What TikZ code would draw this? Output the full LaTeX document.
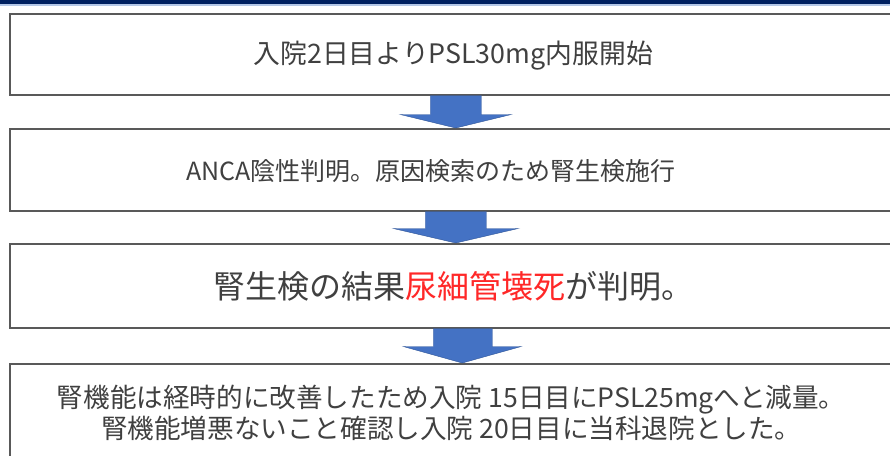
\documentclass[tikz,border=0pt]{standalone}
\usepackage{fontspec}
\setmainfont{Noto Sans CJK JP}
\usetikzlibrary{calc}
\definecolor{navy}{RGB}{0,32,96}
\definecolor{lightbar}{RGB}{180,199,231}
\definecolor{arrowblue}{RGB}{68,114,196}
\definecolor{arrowedge}{RGB}{47,85,151}
\definecolor{boxline}{RGB}{89,89,89}
\definecolor{txt}{RGB}{64,64,64}
\definecolor{redtxt}{RGB}{255,40,40}
\tikzset{
  flowbox/.style={draw=boxline, line width=1.5pt, fill=white, minimum width=891pt, inner sep=0pt, anchor=north west},
  flowtext/.style={text=txt, inner sep=0pt, align=center},
  downarrow/.style={fill=arrowblue, draw=arrowedge, line width=0.4pt, line join=miter}
}
\begin{document}
\begin{tikzpicture}[x=1pt,y=-1pt]
\useasboundingbox (0,0) rectangle (890,455);
\clip (0,0) rectangle (890,455);
% top bar
\fill[navy] (0,0) rectangle (890,4);
\fill[lightbar] (0,4) rectangle (890,5.5);
% boxes
\node[flowbox, minimum height=81pt] (b1) at (9,13) {};
\node[flowbox, minimum height=82pt] (b2) at (9,128) {};
\node[flowbox, minimum height=84pt] (b3) at (9,243) {};
\node[flowbox, minimum height=98pt] (b4) at (9,363) {};
% texts
\node[flowtext, font=\fontsize{26.8}{30}\selectfont] (t1) at ($(b1.center)+(-2,1.5)$) {入院2日目よりPSL30mg内服開始};
\node[flowtext, font=\fontsize{25}{30}\selectfont] (t2) at ($(b2.center)+(-24,1)$) {ANCA陰性判明。原因検索のため腎生検施行};
\node[flowtext, font=\fontsize{32}{38}\selectfont] (t3) at ($(b3.center)+(-2,1)$) {腎生検の結果\textcolor{redtxt}{尿細管壊死}が判明。};
\node[flowtext, font=\fontsize{26.6}{31}\selectfont] (t4) at ($(b4.center)+(-4,0)$) {腎機能は経時的に改善したため入院 15日目にPSL25mgへと減量。\\腎機能増悪ないこと確認し入院 20日目に当科退院とした。};
% arrows
\path[downarrow] ($(b1.south)+(-25,0)$) -- ($(b1.south)+(26,0)$) -- ($(b1.south)+(26,19)$) -- ($(b1.south)+(56,19)$) -- ($(b2.north)+(0.5,0)$) -- ($(b1.south)+(-55,19)$) -- ($(b1.south)+(-25,19)$) -- cycle;
\path[downarrow] ($(b2.south)+(-30,0)$) -- ($(b2.south)+(31,0)$) -- ($(b2.south)+(31,17)$) -- ($(b2.south)+(63,17)$) -- ($(b3.north)+(0.5,0)$) -- ($(b2.south)+(-62,17)$) -- ($(b2.south)+(-30,17)$) -- cycle;
\path[downarrow] ($(b3.south)+(-22,0)$) -- ($(b3.south)+(37,0)$) -- ($(b3.south)+(37,18)$) -- ($(b3.south)+(66,18)$) -- ($(b4.north)+(7,0)$) -- ($(b3.south)+(-52,18)$) -- ($(b3.south)+(-22,18)$) -- cycle;
\end{tikzpicture}
\end{document}
